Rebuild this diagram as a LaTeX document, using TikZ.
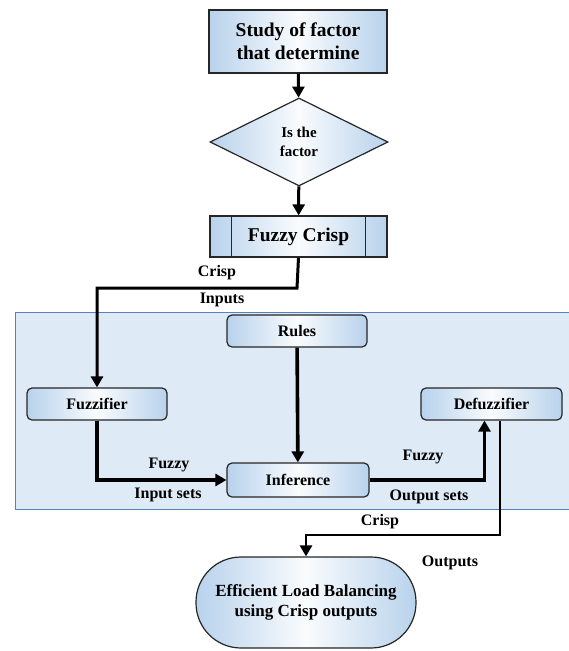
\documentclass[tikz,border=0pt]{standalone}
\usepackage{fontspec}
\setmainfont{Liberation Serif}
\usetikzlibrary{arrows.meta,shapes.geometric,positioning}

\definecolor{boxblue}{RGB}{184,210,236}
\definecolor{panelfill}{RGB}{222,234,246}
\definecolor{panelline}{RGB}{84,130,190}

\tikzset{
	flowbox/.style={draw=black!85, line width=1.2pt, left color=boxblue, right color=boxblue, middle color=white!92!boxblue, inner sep=0pt, align=center, font=\bfseries},
	stagebox/.style={flowbox, rounded corners=5pt, minimum width=140pt, minimum height=32pt, font=\bfseries\fontsize{16}{18}\selectfont},
	flowarrow/.style={line width=3.6pt, -{Triangle[width=12pt,length=11pt]}},
	flowlabel/.style={font=\bfseries\fontsize{16}{18}\selectfont, inner sep=0pt}
}

\begin{document}
\begin{tikzpicture}[x=1pt, y=-1pt]
	\useasboundingbox (0, 0) rectangle (568, 651);

	% panel
	\fill [panelfill] (15, 312) rectangle (570, 509);
	\draw [panelline, line width=1pt] (570, 312) -- (15, 312) -- (15, 509) -- (570, 509);

	\node (study) [flowbox, minimum width=178pt, minimum height=63pt, font=\bfseries\fontsize{19.5}{23}\selectfont] at (298, 41.5) {Study of factor\\that determine};
	\node (factor) [flowbox, diamond, aspect=2, minimum width=178pt, minimum height=88pt, font=\bfseries\fontsize{15}{19}\selectfont] at (299, 142) {Is the\\factor};
	\node (crisp) [flowbox, minimum width=177pt, minimum height=41pt, font=\bfseries\fontsize{19.5}{22}\selectfont] at (298.5, 236.5) {Fuzzy Crisp};
	\draw [black!85, line width=1.2pt] ([xshift=22pt]crisp.north west) -- ([xshift=22pt]crisp.south west);
	\draw [black!85, line width=1.2pt] ([xshift=-22pt]crisp.north east) -- ([xshift=-22pt]crisp.south east);

	\node (rules) [stagebox] at (297, 331) {Rules};
	\node (fuzzifier) [stagebox] at (97, 404) {Fuzzifier};
	\node (inference) [stagebox, minimum width=142pt, minimum height=34pt] at (298, 480) {Inference};
	\node (defuzzifier) [stagebox, minimum width=141pt] at (491.5, 404) {Defuzzifier};
	\node (balance) [flowbox, rounded corners=45pt, minimum width=220pt, minimum height=91pt, font=\bfseries\fontsize{17}{19.5}\selectfont] at (306, 602.5) {Efficient Load Balancing\\using Crisp outputs};

	\coordinate (bend1) at (297, 288);
	\coordinate (bend2) at (500, 535);

	\draw [flowarrow, line width=3pt] (study) -- (factor);
	\draw [flowarrow, line width=3pt] (factor) -- (crisp);
	\draw [flowarrow, line width=3pt] (crisp.south) -- (bend1) -| (fuzzifier.north);
	\draw [flowarrow] (rules) -- (inference);
	\draw [flowarrow] (fuzzifier.south) |- (inference.west);
	\draw [flowarrow] (inference.east) -| ([xshift=-7pt]defuzzifier.south);
	\draw [line width=2.6pt, -{Triangle[width=12pt,length=11pt]}] ([xshift=8.5pt]defuzzifier.south) -- (bend2) -| (balance.north);

	\node [flowlabel] at (217, 273) {Crisp};
	\node [flowlabel] at (222, 300) {Inputs};
	\node [flowlabel] at (169, 465) {Fuzzy};
	\node [flowlabel] at (168, 495) {Input sets};
	\node [flowlabel] at (423, 457) {Fuzzy};
	\node [flowlabel] at (429, 497) {Output sets};
	\node [flowlabel] at (380, 522) {Crisp};
	\node [flowlabel] at (450, 563) {Outputs};
\end{tikzpicture}
\end{document}
